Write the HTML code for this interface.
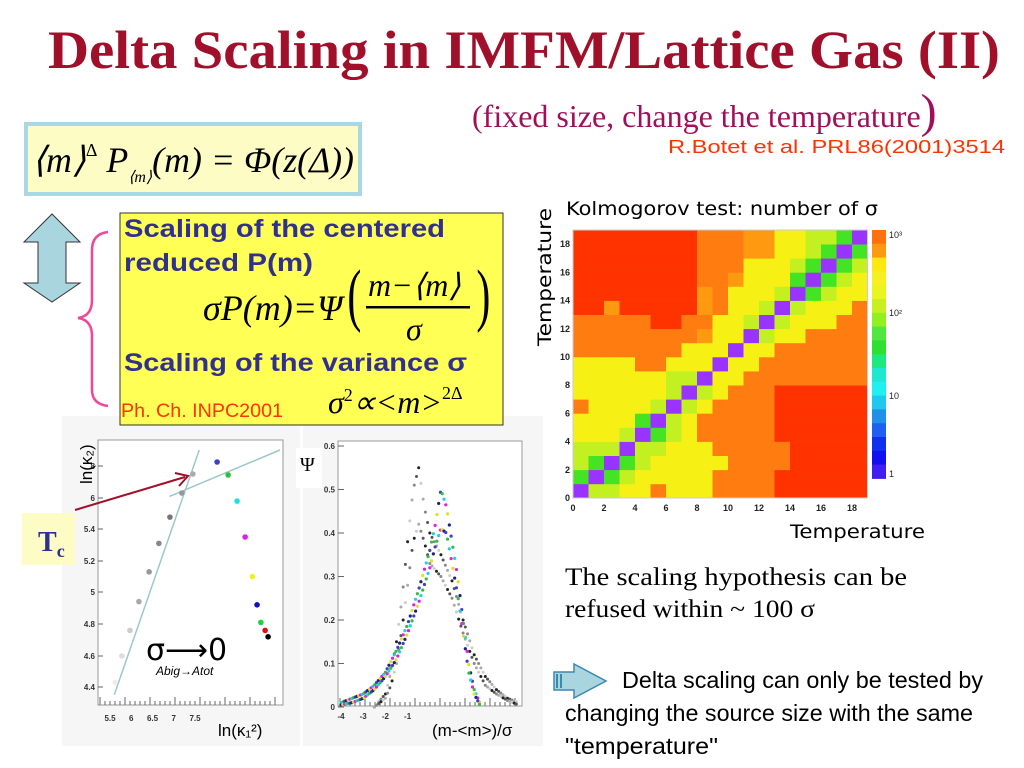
<!DOCTYPE html>
<html><head><meta charset="utf-8"><style>
body{margin:0;width:1024px;height:768px;overflow:hidden;background:#fff;font-family:"Liberation Sans",sans-serif}
svg{position:absolute;left:0;top:0}
</style></head><body>
<svg id="s" width="1024" height="768" xmlns="http://www.w3.org/2000/svg">
<text x="48" y="68" textLength="952" lengthAdjust="spacingAndGlyphs" font-family="Liberation Serif" font-weight="bold" font-size="54" fill="#a0102a">Delta Scaling in IMFM/Lattice Gas (II)</text>
<text x="472" y="127" font-family="Liberation Serif" font-size="32" fill="#a0105a">(fixed size, change the temperature<tspan font-size="48">)</tspan></text>
<text x="668" y="153" textLength="337" lengthAdjust="spacingAndGlyphs" font-size="18" fill="#ff3300">R.Botet et al. PRL86(2001)3514</text>
<g id="left"></g>
<g id="right"></g>
<g>
<rect x="26" y="124" width="334" height="70" fill="#fcfcc4" stroke="#a8d8e6" stroke-width="4"/>
<text x="32" y="172" textLength="322" lengthAdjust="spacingAndGlyphs" font-family="Liberation Serif" font-size="36" font-style="italic" fill="#000">⟨m⟩<tspan font-size="18" dy="-16" font-style="normal">Δ</tspan><tspan dy="16"> P</tspan><tspan font-size="16" dy="10">⟨m⟩</tspan><tspan dy="-10">(m) = Φ(z(Δ))</tspan></text>
</g>
<path d="M52 214 L80 242 L66 242 L66 283 L80 283 L52 302 L24 283 L38 283 L38 242 L24 242 Z" fill="#a9d6de" stroke="#333" stroke-width="1"/>
<path d="M108 232 Q92 234 92 250 L92 300 Q92 316 78 318 Q92 320 92 336 L92 390 Q92 404 108 406" fill="none" stroke="#f0479a" stroke-width="2.5"/>
<g>
<rect x="120" y="213" width="383" height="212" fill="#ffff55" stroke="#333" stroke-width="1"/>
<text x="124" y="237" textLength="321" lengthAdjust="spacingAndGlyphs" font-weight="bold" font-size="25" fill="#303090">Scaling of the centered</text>
<text x="124" y="271" textLength="189" lengthAdjust="spacingAndGlyphs" font-weight="bold" font-size="25" fill="#303090">reduced P(m)</text>
<text x="203" y="320" font-family="Liberation Serif" font-style="italic" font-size="36" fill="#000">σP(m)=Ψ</text>
<text x="346" y="318" font-family="Liberation Serif" font-size="70" fill="#000" transform="scale(0.6,1) translate(233,0)">(</text>
<text x="368" y="296" font-family="Liberation Serif" font-style="italic" font-size="32" fill="#000">m−⟨m⟩</text>
<rect x="366" y="306" width="104" height="2.5" fill="#000"/>
<text x="406" y="340" font-family="Liberation Serif" font-style="italic" font-size="32" fill="#000">σ</text>
<text x="474" y="318" font-family="Liberation Serif" font-size="70" fill="#000" transform="scale(0.6,1) translate(320,0)">)</text>
<text x="124" y="371" textLength="343" lengthAdjust="spacingAndGlyphs" font-weight="bold" font-size="25" fill="#303090">Scaling of the variance σ</text>
<text x="121" y="417" textLength="162" lengthAdjust="spacingAndGlyphs" font-size="19" fill="#ff3300">Ph. Ch. INPC2001</text>
<text x="328" y="413" font-family="Liberation Serif" font-style="italic" font-size="32" fill="#000">σ<tspan font-size="18" dy="-12" font-style="normal">2</tspan><tspan dy="12">∝&lt;m&gt;</tspan><tspan font-size="18" dy="-14" font-style="normal">2Δ</tspan></text>
</g>
<g id="heat"></g>
<g>
<rect x="22" y="513" width="53" height="52" fill="#fcfcc4"/>
<text x="38" y="551" font-family="Liberation Serif" font-weight="bold" font-size="28" fill="#303090">T<tspan font-size="18" dy="6">c</tspan></text>
</g>
<text x="565" y="585" textLength="342" lengthAdjust="spacingAndGlyphs" font-family="Liberation Serif" font-size="25" fill="#000">The scaling hypothesis can be</text>
<text x="565" y="617" textLength="250" lengthAdjust="spacingAndGlyphs" font-family="Liberation Serif" font-size="25" fill="#000">refused within ~ 100 σ</text>
<g>
<path d="M554 672 L574 672 L574 664 L606 681 L574 698 L574 690 L554 690 Z" fill="#a9d6de" stroke="#3a8ab0" stroke-width="1.5"/>
<rect x="556" y="674" width="2" height="14" fill="#3a8ab0"/><rect x="560" y="674" width="2" height="14" fill="#3a8ab0"/>
</g>
<text x="622" y="688" textLength="361" lengthAdjust="spacingAndGlyphs" font-size="23" fill="#000">Delta scaling can only be tested by</text>
<text x="565" y="721" textLength="408" lengthAdjust="spacingAndGlyphs" font-size="23" fill="#000">changing the source size with the same</text>
<text x="565" y="754" textLength="153" lengthAdjust="spacingAndGlyphs" font-size="23" fill="#000">"temperature"</text>
</svg>
<script>
// ---- left chart data ----
const kxTicks=[5.5,6,6.5,7,7.5];
const kyTicks=[4.4,4.6,4.8,5,5.2,5.4,6,8];
const grayX=[5.62,5.78,5.97,6.18,6.42,6.65,6.91,7.19,7.45];
const grayY=[4.43,4.6,4.76,4.94,5.13,5.31,5.63,6.31,7.5];
const colX=[8.02,8.28,8.49,8.68,8.85,8.96,9.05,9.15,9.22];
const colY=[8.25,7.44,5.94,5.35,5.1,4.92,4.81,4.76,4.72];
const colC=['#4040c0','#30c040','#20e0e0','#e020e0','#f0f020','#1010c0','#20d040','#e01010','#000'];
const fit1=[[5.6,4.35],[7.6,9]];
const fit2=[[6.9,6.1],[9.5,9]];
// ---- right chart data ----
const pxTicks=[-4,-3,-2,-1];
const pyTicks=[0,0.1,0.2,0.3,0.4,0.5,0.6];
const cX=[-4,-3.5,-3,-2.5,-2,-1.5,-1,-0.5,0,0.25,0.5,0.75,1,1.25,1.5,1.75,2,2.25];
const cHi=[0.01,0.02,0.03,0.05,0.08,0.13,0.19,0.27,0.36,0.42,0.5,0.46,0.38,0.3,0.2,0.1,0.04,0.01];
const cLo=[0.005,0.01,0.02,0.04,0.07,0.11,0.17,0.24,0.32,0.37,0.41,0.4,0.33,0.26,0.17,0.08,0.03,0.005];
const gX=[-2.5,-2,-1.75,-1.5,-1.25,-1,-0.75,-0.5,-0.25,0,0.5,1,1.5,2,2.5,3,3.5,4];
const gHi=[0,0.03,0.08,0.15,0.25,0.38,0.5,0.55,0.46,0.4,0.35,0.29,0.2,0.12,0.07,0.04,0.02,0.01];
const gLo=[0,0.02,0.05,0.1,0.18,0.28,0.38,0.42,0.38,0.33,0.3,0.25,0.17,0.1,0.05,0.03,0.015,0.005];
// ---- heatmap data (rows y=0..18, columns x=0..18) ----
const heatRows=[
"PLLYYOYYYOOOORRRRRR",
"GPGLYYYYYOOOORRRRRR",
"LGPGLYYYYYOOOORRRRR",
"LLLPLLYYYOOOOORRRRR",
"YYYLPGLYOOOOORRRRRR",
"YYYYGPLYOOOOORRRRRR",
"OYYYYLPLYOOOORRRRRR",
"YYYYYYLPLYOOORRRRRR",
"YYYYYYLLPYYOOOOOOOO",
"YYYYOOYYYPYYOOOOOOO",
"OOOOOOOYYYPYYOOOOOO",
"OOOOOOOOoYYPLYYOOOO",
"OOOOORROOYYLPLYYYOO",
"RRoRRRRRoOYYLPLYYYO",
"RRRRRRRRoOYYYLPGLYY",
"RRRRRRRROOoYYYGPGLY",
"RRRRRRRROOOYYYLGPGL",
"RRRRRRRROOOooYYLGPG",
"RRRRRRRROOOooYYLLGP"];
const heatColors={P:'#9933ff',G:'#44e424',L:'#c2f020',Y:'#f6f014',O:'#ff7c10',o:'#ff9a10',R:'#ff3300'};
const heatTicks=[0,2,4,6,8,10,12,14,16,18];

const NS='http://www.w3.org/2000/svg';
function mk(parent,tag,attrs,txt){const e=document.createElementNS(NS,tag);for(const k in attrs)e.setAttribute(k,attrs[k]);if(txt!==undefined)e.textContent=txt;parent.appendChild(e);return e;}

// left chart
const L=document.getElementById('left');
mk(L,'rect',{x:62,y:416,width:238,height:330,fill:'#f6f6f6'});
mk(L,'rect',{x:98,y:440,width:185,height:265,fill:'#fff',stroke:'#999'});
const kx=v=>110+(v-5.5)*42.5;
const kyPix=[687,656,624,592,561,529,498,466];
function ky(v){for(let i=0;i<kyTicks.length-1;i++){if(v<=kyTicks[i+1]||i==kyTicks.length-2){const t=(v-kyTicks[i])/(kyTicks[i+1]-kyTicks[i]);return kyPix[i]+t*(kyPix[i+1]-kyPix[i]);}}}
kxTicks.forEach(t=>{const e=mk(L,'text',{x:kx(t),y:721,'font-size':8,'font-weight':'bold','text-anchor':'middle',fill:'#333'},t);

});
kyTicks.forEach(t=>{const e=mk(L,'text',{x:95,y:ky(t)+3,'font-size':8,'font-weight':'bold','text-anchor':'end',fill:'#333'},t);


mk(L,'line',{x1:98,x2:103,y1:ky(t),y2:ky(t),stroke:'#666'});});
for(let i=0;i<36;i++){mk(L,'line',{x1:100+i*5,x2:100+i*5,y1:705,y2:i%5?701:697,stroke:'#666'});}
[fit1,fit2].forEach(f=>{const e=mk(L,'line',{x1:kx(f[0][0]),y1:ky(f[0][1]),x2:kx(f[1][0]),y2:Math.max(447,ky(f[1][1])),stroke:'#9cc8cc','stroke-width':1.5});

});
grayX.forEach((x,i)=>{const e=mk(L,'circle',{cx:kx(x),cy:ky(grayY[i]),r:2.8,fill:['#eee','#ddd','#ccc','#aaa','#999','#888','#777','#999','#aaa'][i]});

});
colX.forEach((x,i)=>{const e=mk(L,'circle',{cx:kx(x),cy:ky(colY[i]),r:2.8,fill:colC[i]});

});
mk(L,'line',{x1:75,y1:510,x2:185,y2:477,stroke:'#a0102a','stroke-width':2});
mk(L,'path',{d:'M175 473 L188 476 L179 486',fill:'none',stroke:'#a0102a','stroke-width':2});
mk(L,'text',{x:58,y:490,'font-size':17,transform:'rotate(-90 72 470)',fill:'#000'},'ln(κ₂)');
mk(L,'text',{x:218,y:736,'font-size':17,fill:'#000'},'ln(κ₁²)');
mk(L,'text',{x:146,y:660,'font-size':30,fill:'#000','font-family':'DejaVu Sans'},'σ⟶0');
mk(L,'text',{x:156,y:675,'font-size':12,'font-style':'italic',fill:'#000'},'Abig→Atot');

// right chart
const R=document.getElementById('right');
mk(R,'rect',{x:303,y:416,width:240,height:330,fill:'#f6f6f6'});
mk(R,'rect',{x:338,y:441,width:184,height:265,fill:'#fff',stroke:'#999'});
const px=v=>341+(v+4)*22.2;
const py=v=>707-v*435;
pyTicks.forEach(t=>{const e=mk(R,'text',{x:335,y:py(t)+3,'font-size':8,'font-weight':'bold','text-anchor':'end',fill:'#333'},t);


mk(R,'line',{x1:338,x2:344,y1:py(t),y2:py(t),stroke:'#666'});});
pxTicks.forEach(t=>{const e=mk(R,'text',{x:px(t),y:719,'font-size':8,'font-weight':'bold','text-anchor':'middle',fill:'#333'},t);

});
for(let i=0;i<36;i++){mk(R,'line',{x1:340+i*5,x2:340+i*5,y1:706,y2:i%5?702:698,stroke:'#666'});}
function interp(xs,ys,x){if(x<=xs[0])return ys[0];for(let i=0;i<xs.length-1;i++){if(x<=xs[i+1]){const t=(x-xs[i])/(xs[i+1]-xs[i]);return ys[i]+t*(ys[i+1]-ys[i]);}}return ys[ys.length-1];}
const grayCols=['#222','#555','#888','#aaa','#ccc'];
[gHi,gLo].forEach((ys,si)=>{for(let x=gX[0];x<=gX[gX.length-1];x+=0.1){const e=mk(R,'circle',{cx:px(x),cy:py(interp(gX,ys,x)),r:1.5,fill:grayCols[Math.abs(Math.round(x*10+si*2))%5]});

}});
const pcols=['#4040c0','#30c040','#20d0e0','#e020e0','#e0e020','#202080'];
[cHi,cLo].forEach((ys,si)=>{for(let x=cX[0];x<=cX[cX.length-1];x+=0.08){const e=mk(R,'circle',{cx:px(x),cy:py(interp(cX,ys,x)),r:1.6,fill:pcols[Math.abs(Math.round(x*12.5)+si*3)%6]});

}});
mk(R,'rect',{x:296,y:448,width:26,height:40,fill:'#fff'});
mk(R,'text',{x:300,y:471,'font-size':20,'font-family':'Liberation Serif',fill:'#000'},'Ψ');
mk(R,'text',{x:432,y:736,'font-size':17,fill:'#000'},'(m-<m>)/σ');

// heatmap
const H=document.getElementById('heat');
const hx=v=>573+v*15.5, hy=v=>498-v*14.1;
heatRows.forEach((row,r)=>{for(let c=0;c<19;c++){const e=mk(H,'rect',{x:hx(c),y:hy(r+1),width:15.8,height:14.4,fill:heatColors[row[c]]});

}});
mk(H,'rect',{x:573,y:230,width:294.5,height:268,fill:'none',stroke:'#ccc'});
heatTicks.forEach(t=>{const e=mk(H,'text',{x:hx(t),y:511,'font-size':9,'font-weight':'bold','text-anchor':'middle',fill:'#222'},t);


const f=mk(H,'text',{x:570,y:hy(t)+3,'font-size':9,'font-weight':'bold','text-anchor':'end',fill:'#222'},t);

});
const cb=['#ff7010','#ff9a10','#ffe810','#f6f020','#e8f520','#c8f020','#90f020','#50e840','#30e030','#20e880','#20e8d0','#20f0f0','#20c8f0','#2090e8','#2060f0','#1030f0','#1010f0','#4020f0'];
cb.forEach((c,i)=>mk(H,'rect',{x:872,y:230+i*13.8,width:14,height:14.3,fill:c}));
[['10³',234],['10²',312],['10',395],['1',473]].forEach(l=>mk(H,'text',{x:889,y:l[1]+4,'font-size':9,fill:'#222'},l[0]));
mk(H,'text',{x:566,y:215,'font-size':19,textLength:312,lengthAdjust:'spacingAndGlyphs',fill:'#000','font-family':'DejaVu Sans'},'Kolmogorov test: number of σ');
mk(H,'text',{x:0,y:0,'font-size':19,textLength:138,lengthAdjust:'spacingAndGlyphs',fill:'#000','font-family':'DejaVu Sans',transform:'translate(551 346) rotate(-90)'},'Temperature');
mk(H,'text',{x:790,y:538,'font-size':19,textLength:135,lengthAdjust:'spacingAndGlyphs',fill:'#000','font-family':'DejaVu Sans'},'Temperature');
</script>
</body></html>
